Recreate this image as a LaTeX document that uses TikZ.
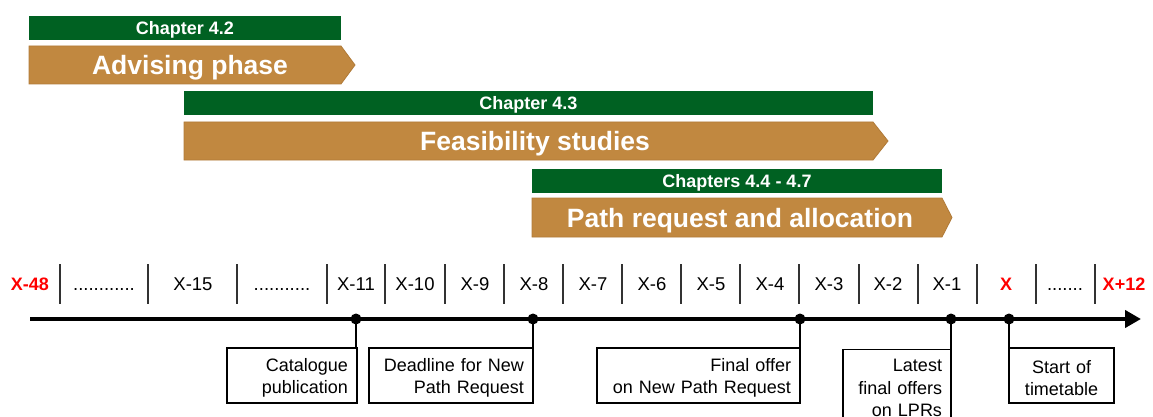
\documentclass[tikz,border=0pt]{standalone}
\usepackage{fontspec}
\setmainfont{Liberation Sans}
\usetikzlibrary{arrows.meta}
\definecolor{chgreen}{RGB}{0,97,34}
\definecolor{phbrown}{RGB}{193,136,64}
\definecolor{phedge}{RGB}{176,122,56}
\definecolor{sepgray}{RGB}{50,50,50}
\definecolor{xred}{RGB}{255,0,0}
\newcommand{\topstrut}{\rule{0pt}{18pt}}
\begin{document}
\begin{tikzpicture}[x=1pt,y=-1pt,
  chbar/.style={fill=chgreen, text=white, font=\bfseries\fontsize{18}{21}\selectfont, inner sep=0pt, minimum height=24pt, text height=12.9pt, text depth=0pt},
  phshape/.style={fill=phbrown, draw=phedge, line width=0.8pt},
  phtext/.style={text=white, font=\bfseries\fontsize{26.5}{30}\selectfont, inner sep=0pt, text height=19pt, text depth=0pt},
  tl/.style={font=\fontsize{18.5}{21}\selectfont, inner sep=0pt, text height=13.3pt, text depth=0pt},
  tlred/.style={tl, text=xred, font=\bfseries\fontsize{18}{21}\selectfont},
  sepline/.style={draw=sepgray, line width=1.2pt},
  evbox/.style={draw=black, line width=1.2pt, fill=white, inner xsep=9pt, inner ysep=0pt, minimum height=55pt, font=\fontsize{18}{22.5}\selectfont},
  evdot/.style={circle, fill=black, inner sep=0pt, minimum size=11pt},
  conn/.style={draw=black, line width=1.2pt}
]
\useasboundingbox (0,0) rectangle (1153,417);
\clip (0,0) rectangle (1153,417);

% chapter bars
\node[chbar, minimum width=312pt] (c1) at (185,28) {Chapter 4.2};
\node[chbar, minimum width=689pt] (c2) at (528.5,103.5) {Chapter 4.3};
\node[chbar, minimum width=410pt] (c3) at (737,181) {Chapters 4.4 - 4.7};

% phase arrows
\path[phshape] (29,46) -- (341,46) -- (355,65) -- (341,84) -- (29,84) -- cycle;
\node[phtext] (p1) at (190,65) {Advising phase};
\path[phshape] (184,122) -- (873,122) -- (888,141) -- (873,160) -- (184,160) -- cycle;
\node[phtext] (p2) at (535,141) {Feasibility studies};
\path[phshape] (532,198) -- (942,198) -- (952,217.5) -- (942,237) -- (532,237) -- cycle;
\node[phtext] (p3) at (740,217.5) {Path request and allocation};

% timeline labels
\node[tlred] (lm48) at (30,284) {X-48};
\node[tl] (ld1) at (104,284) {............};
\node[tl] (lm15) at (193,284) {X-15};
\node[tl] (ld2) at (282,284) {...........};
\node[tl] (lm11) at (356,284) {X-11};
\node[tl] (lm10) at (415,284) {X-10};
\node[tl] (lm9) at (475,284) {X-9};
\node[tl] (lm8) at (534,284) {X-8};
\node[tl] (lm7) at (593,284) {X-7};
\node[tl] (lm6) at (652,284) {X-6};
\node[tl] (lm5) at (711,284) {X-5};
\node[tl] (lm4) at (770,284) {X-4};
\node[tl] (lm3) at (829,284) {X-3};
\node[tl] (lm2) at (888,284) {X-2};
\node[tl] (lm1) at (947,284) {X-1};
\node[tlred] (lx) at (1006,284) {X};
\node[tl] (ld3) at (1065,284) {.......};
\node[tlred] (lp12) at (1124,284) {X+12};

% separators
\foreach \sx in {60,148,237,327,385,445,504,563,622,681,740,799,859,918,977,1036,1095}
  \draw[sepline] (\sx,264) -- (\sx,304);

% timeline
\coordinate (ts) at (30,319);
\coordinate (te) at (1141,319);
\draw[line width=4.5pt, -{Triangle[length=16pt,width=17pt]}] (ts) -- (te);

% event boxes
\node[evbox, text width=112pt, align=right] (b1) at (292,375.5) {\topstrut Catalogue\\publication};
\node[evbox, text width=146pt, align=right] (b2) at (451,375.5) {\topstrut Deadline for New\\Path Request};
\node[evbox, text width=185pt, align=right] (b3) at (698.5,375.5) {\topstrut Final offer\\on New Path Request};
\node[evbox, text width=90pt, align=right, minimum height=77pt, anchor=north] (b4) at (897,349) {Latest\\final offers\\on LPRs};
\node[evbox, text width=87pt, align=center] (b5) at (1061.5,375.5) {\topstrut Start of\\timetable};

% event dots
\node[evdot] (d1) at (356,319) {};
\node[evdot] (d2) at (533,319) {};
\node[evdot] (d3) at (800,319) {};
\node[evdot] (d4) at (951,319) {};
\node[evdot] (d5) at (1009,319) {};

% connectors
\draw[conn] (d1.center) -- (d1 |- b1.north);
\draw[conn] (d2.center) -- (d2 |- b2.north);
\draw[conn] (d3.center) -- (d3 |- b3.north);
\draw[conn] (d4.center) -- (d4 |- b4.north);
\draw[conn] (d5.center) -- (d5 |- b5.north);
\end{tikzpicture}
\end{document}
